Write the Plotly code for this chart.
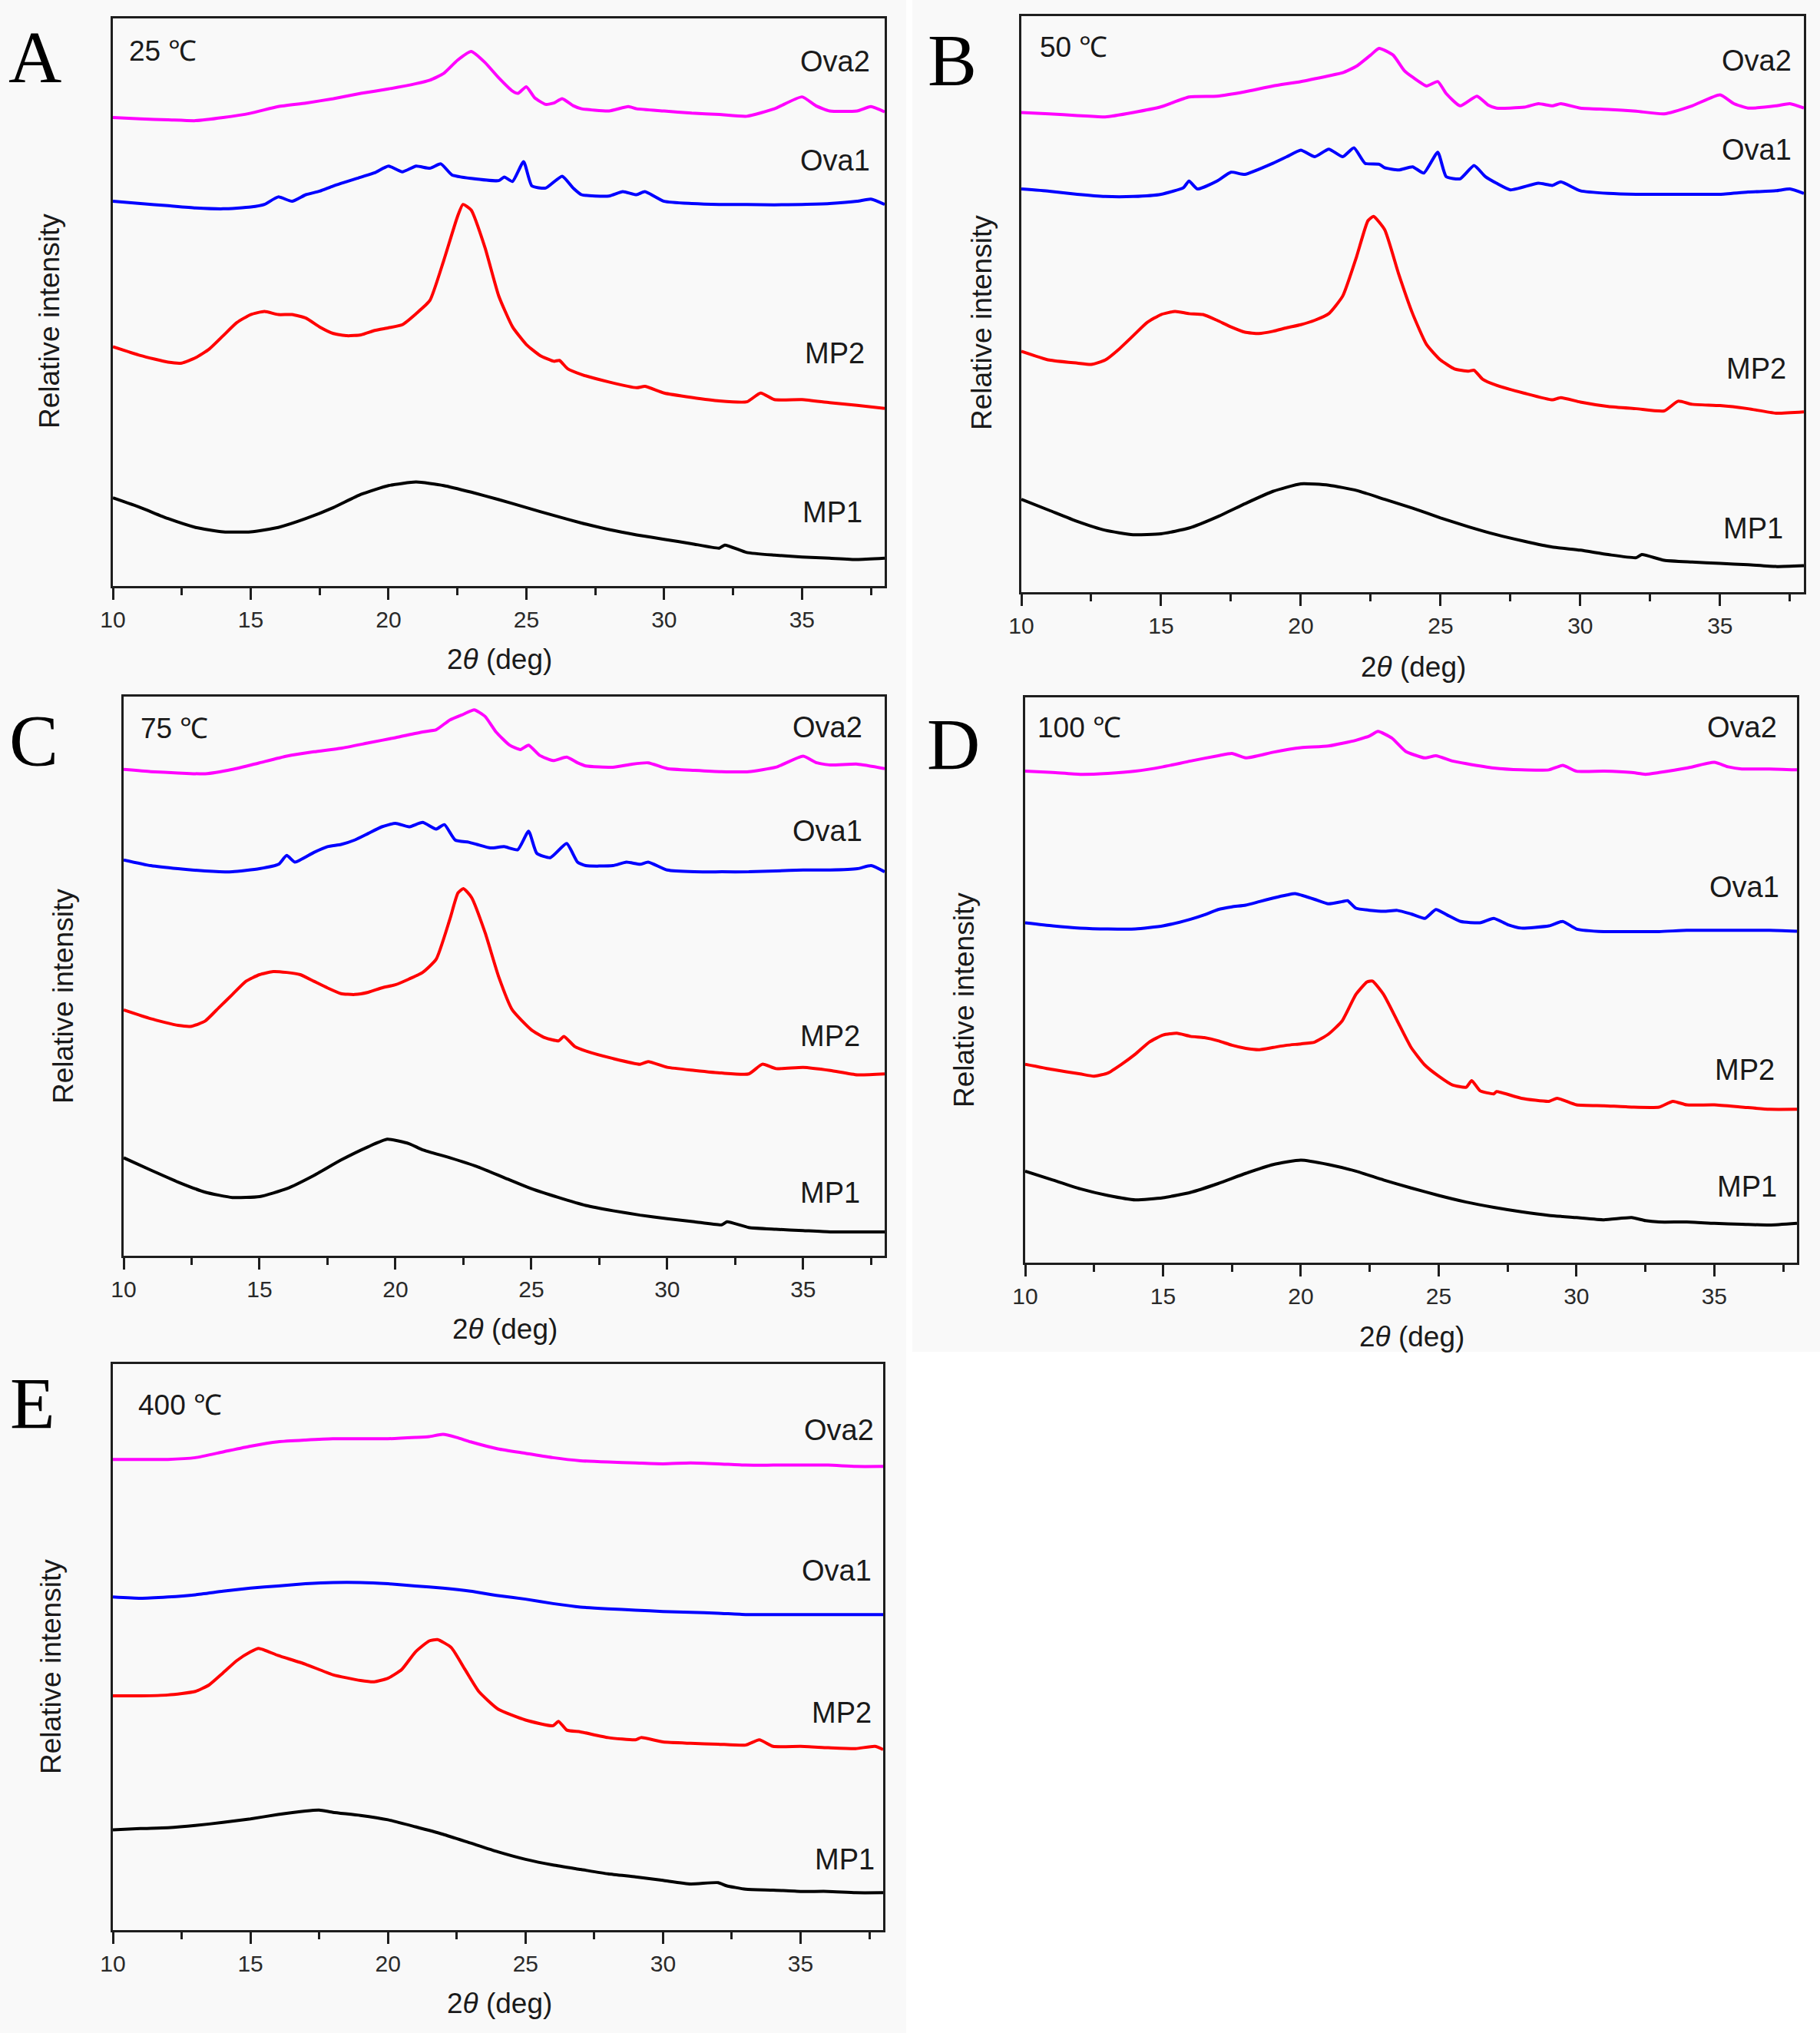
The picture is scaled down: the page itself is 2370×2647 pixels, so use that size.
import plotly.graph_objects as go

W, H = 2370, 2647

# ---------------- data (2θ in deg, relative intensity in arbitrary units, stacked) ----------------
# Panel A, 25 °C
A_OVA2 = [(10,1063),(11,1060),(12,1058),(13,1056),(14,1063),(15,1073),(16,1088),(17,1096),(18,1106),(19,1118),
          (20,1128),(21,1140),(21.5,1148),(22,1163),(22.5,1193),(23,1213),(23.5,1188),(24,1153),(24.5,1123),(24.7,1118),
          (25,1133),(25.3,1108),(25.7,1093),(26,1096),(26.3,1106),(26.7,1090),(27,1083),(28,1078),(28.7,1088),(29,1083),
          (30,1078),(31,1073),(32,1070),(33,1066),(34,1083),(35,1110),(35.5,1090),(36,1078),(37,1078),(37.5,1088),(38,1076)]
A_OVA1 = [(10,873),(11,868),(12,863),(13,858),(14,856),(15,860),(15.5,866),(16,883),(16.5,873),(17,888),(17.5,896),
          (18,908),(19,928),(19.5,938),(20,953),(20.5,940),(21,953),(21.5,948),(21.9,958),(22.3,933),(23,925),(24,920),
          (24.2,928),(24.5,918),(24.9,963),(25.2,908),(25.7,903),(26.3,930),(26.7,903),(27,888),(28,885),(28.5,895),
          (29,888),(29.3,895),(30,873),(31,868),(32,866),(33,866),(34,865),(35,866),(36,868),(37,873),(37.5,878),(38,866)]
A_MP2 = [(10,543),(11,523),(12,508),(12.5,506),(13,518),(13.5,538),(14,568),(14.5,598),(15,616),(15.5,623),(16,616),
         (16.5,616),(17,608),(17.5,588),(18,573),(18.5,568),(19,570),(19.5,580),(20,586),(20.5,593),(21,618),(21.5,648),
         (22,738),(22.5,838),(22.7,866),(23,853),(23.5,768),(24,658),(24.5,588),(25,548),(25.5,523),(26,510),(26.2,512),
         (26.5,493),(27,480),(28,463),(29,450),(29.3,453),(30,438),(31,428),(32,420),(33,418),(33.5,438),(34,423),
         (35,423),(36,416),(37,410),(38,403)]
A_MP1 = [(10,200),(11,178),(12,153),(13,133),(14,123),(15,123),(16,133),(17,153),(18,178),(19,208),(20,228),(21,236),
         (22,228),(23,213),(24,196),(25,178),(26,160),(27,143),(28,128),(29,116),(30,106),(31,96),(32,86),(32.2,93),
         (33,76),(34,70),(35,66),(36,63),(37,60),(38,63)]

# Panel B, 50 °C
B_OVA2 = [(10,1085),(11,1082),(12,1078),(13,1075),(14,1085),(15,1098),(16,1120),(17,1122),(18,1132),(19,1145),(20,1155),
          (21,1168),(21.5,1175),(22,1190),(22.5,1215),(22.8,1230),(23.3,1215),(23.7,1180),(24,1165),(24.5,1145),(24.9,1155),
          (25.2,1128),(25.7,1100),(26.3,1122),(26.7,1102),(27,1095),(28,1097),(28.5,1105),(29,1100),(29.3,1105),(30,1095),
          (31,1092),(32,1088),(33,1082),(34,1100),(35,1125),(35.5,1105),(36,1095),(37,1100),(37.5,1105),(38,1095)]
B_OVA1 = [(10,912),(11,907),(12,900),(13,895),(14,895),(15,900),(15.8,915),(16,930),(16.3,912),(17,930),(17.5,950),
          (18,945),(19,970),(19.5,985),(20,1000),(20.5,985),(21,1002),(21.5,985),(21.9,1005),(22.3,970),(22.8,968),(23,960),
          (23.5,955),(24,962),(24.4,948),(24.9,995),(25.2,940),(25.7,935),(26.2,965),(26.6,940),(27,925),(27.5,910),
          (28.5,925),(29,920),(29.3,928),(30,908),(31,902),(32,900),(33,900),(34,900),(35,900),(36,905),(37,908),
          (37.5,912),(38,902)]
B_MP2 = [(10,545),(11,525),(12,518),(12.5,515),(13,525),(13.5,550),(14,580),(14.5,610),(15,628),(15.5,635),(16,630),
         (16.5,628),(17,615),(17.5,600),(18,588),(18.5,585),(19,590),(19.5,598),(20,605),(20.5,615),(21,630),(21.5,670),
         (22,760),(22.4,840),(22.6,850),(23,820),(23.5,720),(24,630),(24.5,560),(25,525),(25.5,505),(26,500),(26.2,502),
         (26.5,482),(27,468),(28,450),(29,435),(29.3,440),(30,430),(31,420),(32,415),(33,410),(33.5,432),(34,425),
         (35,422),(36,415),(37,405),(38,408)]
B_MP1 = [(10,210),(11,185),(12,160),(13,140),(14,130),(15,132),(16,145),(17,170),(18,200),(19,228),(20,245),(21,242),
         (22,230),(23,210),(24,190),(25,168),(26,148),(27,130),(28,115),(29,102),(30,95),(31,85),(32,78),(32.2,85),
         (33,72),(34,68),(35,65),(36,62),(37,58),(38,60)]

# Panel C, 75 °C
C_OVA2 = [(10,1102),(11,1097),(12,1094),(13,1092),(14,1102),(15,1117),(16,1132),(17,1142),(18,1150),(19,1162),(20,1174),
          (21,1187),(21.5,1192),(22,1214),(22.5,1227),(22.9,1237),(23.3,1222),(23.7,1187),(24.2,1157),(24.6,1147),
          (24.9,1157),(25.3,1134),(25.8,1122),(26.3,1130),(26.7,1117),(27,1110),(28,1107),(28.7,1114),(29.3,1117),
          (30,1104),(31,1100),(32,1097),(33,1097),(34,1107),(35,1132),(35.5,1117),(36,1112),(37,1114),(38,1104)]
C_OVA1 = [(10,897),(11,884),(12,877),(13,872),(14,870),(15,877),(15.7,887),(16,907),(16.3,892),(17,914),(17.5,927),
          (18,932),(18.5,942),(19,957),(19.5,972),(20,980),(20.5,972),(21,982),(21.5,967),(21.8,977),(22.2,942),(22.7,937),
          (23,932),(23.5,924),(24,927),(24.5,920),(24.9,962),(25.2,912),(25.7,902),(26.3,934),(26.7,892),(27,884),
          (28,884),(28.5,892),(29,887),(29.3,892),(30,874),(31,870),(32,870),(33,870),(34,872),(35,874),(36,874),
          (37,877),(37.5,884),(38,870)]
C_MP2 = [(10,557),(11,537),(12,522),(12.5,520),(13,532),(13.5,562),(14,592),(14.5,622),(15,637),(15.5,644),(16,642),
         (16.5,637),(17,622),(17.5,607),(18,594),(18.5,592),(19,597),(19.5,607),(20,614),(20.5,627),(21,642),(21.5,672),
         (22,762),(22.3,822),(22.5,832),(22.8,812),(23.3,732),(23.8,632),(24.3,557),(25,512),(25.5,494),(26,487),
         (26.2,497),(26.6,474),(27,464),(28,447),(29,434),(29.3,440),(30,427),(31,420),(32,414),(33,412),(33.5,434),
         (34,424),(35,427),(36,420),(37,410),(38,412)]
C_MP1 = [(10,222),(11,194),(12,167),(13,144),(14,132),(15,134),(16,152),(17,182),(18,217),(19,247),(19.7,264),
         (20.5,254),(21,240),(22,222),(23,202),(24,177),(25,152),(26,132),(27,114),(28,102),(29,92),(30,84),(31,77),
         (32,70),(32.2,77),(33,64),(34,60),(35,57),(36,54),(37,54),(38,54)]

# Panel D, 100 °C
D_OVA2 = [(10,1112),(11,1109),(12,1105),(13,1107),(14,1112),(15,1122),(16,1135),(17,1147),(17.5,1152),(18,1142),
          (19,1155),(20,1165),(21,1169),(22,1182),(22.5,1192),(22.8,1202),(23.3,1187),(23.8,1157),(24.5,1142),(24.9,1147),
          (25.5,1135),(26,1129),(27,1119),(28,1115),(29,1115),(29.5,1125),(30,1112),(31,1112),(32,1109),(32.5,1105),
          (33,1109),(34,1119),(35,1132),(35.5,1122),(36,1117),(37,1117),(38,1115)]
D_OVA1 = [(10,769),(11,762),(12,757),(13,755),(14,755),(15,762),(16,777),(16.5,787),(17,799),(17.5,805),(18,809),
          (18.5,817),(19,825),(19.5,832),(19.8,835),(20.5,822),(21,812),(21.5,817),(21.7,819),(22,802),(23,795),(23.5,797),
          (24,789),(24.5,779),(24.9,799),(25.3,787),(25.8,772),(26.5,769),(27,779),(27.5,765),(28,757),(29,762),(29.5,772),
          (30,755),(31,749),(32,749),(33,749),(34,752),(35,752),(36,752),(37,752),(38,750)]
D_MP2 = [(10,449),(11,437),(12,427),(12.5,422),(13,429),(13.5,449),(14,472),(14.5,499),(15,515),(15.5,519),(16,512),
         (16.5,509),(17,502),(17.5,492),(18,485),(18.5,482),(19,487),(19.5,492),(20,495),(20.5,499),(21,517),(21.5,547),
         (22,607),(22.4,635),(22.6,637),(23,607),(23.5,547),(24,487),(24.5,447),(25,422),(25.5,402),(26,397),(26.2,412),
         (26.5,389),(27,382),(27.1,387),(28,372),(29,365),(29.3,372),(30,357),(31,355),(32,352),(33,352),(33.5,365),
         (34,357),(35,357),(36,352),(37,347),(38,347)]
D_MP1 = [(10,207),(11,187),(12,167),(13,152),(14,142),(15,147),(16,159),(17,179),(18,202),(19,222),(20,232),(21,222),
         (22,207),(23,187),(24,169),(25,152),(26,137),(27,125),(28,115),(29,107),(30,102),(31,97),(32,102),(32.5,95),
         (33,92),(34,92),(35,89),(36,87),(37,85),(38,89)]

# Panel E, 400 °C
E_OVA2 = [(10,1071),(11,1071),(12,1071),(13,1075),(14,1088),(15,1101),(16,1111),(17,1115),(18,1118),(19,1118),(20,1118),
          (21,1121),(21.5,1123),(22,1128),(22.5,1121),(23,1111),(24,1095),(25,1085),(26,1075),(27,1068),(28,1065),(29,1063),
          (30,1061),(31,1063),(32,1061),(33,1058),(34,1058),(35,1058),(36,1058),(37,1055),(38,1055)]
E_OVA1 = [(10,758),(11,755),(12,758),(13,763),(14,771),(15,778),(16,783),(17,788),(18,791),(19,791),(20,788),(21,783),
          (22,778),(23,771),(24,761),(25,753),(26,743),(27,735),(28,731),(29,728),(30,725),(31,723),(32,721),(33,718),
          (34,718),(35,718),(36,718),(37,718),(38,718)]
E_MP2 = [(10,533),(11,533),(12,535),(13,543),(13.5,558),(14,585),(14.5,613),(15,633),(15.3,641),(16,625),(17,605),
         (18,581),(19,568),(19.5,565),(20,573),(20.5,593),(21,633),(21.5,658),(21.8,661),(22.3,643),(22.8,593),(23.3,543),
         (24,503),(25,478),(26,465),(26.2,475),(26.5,455),(27,451),(28,438),(29,433),(29.2,438),(30,428),(31,425),
         (32,423),(33,421),(33.5,433),(34,418),(35,418),(36,415),(37,413),(37.7,418),(38,411)]
E_MP1 = [(10,228),(11,231),(12,233),(13,238),(14,245),(15,253),(16,263),(17,271),(17.5,273),(18,268),(19,261),(20,251),
         (21,235),(22,218),(23,198),(24,178),(25,161),(26,148),(27,138),(28,128),(29,121),(30,113),(31,105),(32,108),
         (32.3,101),(33,93),(34,91),(35,88),(36,88),(37,85),(38,85)]

PANELS = ["A", "B", "C", "D", "E"]
TEMPS = ["25 \u2103", "50 \u2103", "75 \u2103", "100 \u2103", "400 \u2103"]
SERIES_NAMES = ["Ova2", "Ova1", "MP2", "MP1"]
PANEL_DATA = {
    "A": [A_OVA2, A_OVA1, A_MP2, A_MP1],
    "B": [B_OVA2, B_OVA1, B_MP2, B_MP1],
    "C": [C_OVA2, C_OVA1, C_MP2, C_MP1],
    "D": [D_OVA2, D_OVA1, D_MP2, D_MP1],
    "E": [E_OVA2, E_OVA1, E_MP2, E_MP1],
}
Y_MAX = {"A": 1288, "B": 1303, "C": 1267, "D": 1279, "E": 1288}
X_TICKS = [10, 15, 20, 25, 30, 35]

# ---------------- styling / layout ----------------
COLORS = {"Ova2": "#ff00ff", "Ova1": "#0000ff", "MP2": "#ff0000", "MP1": "#000000"}
# plot boxes in pixels: left, top, right, bottom
BOX = {"A": (147, 24, 1152, 763), "B": (1330, 21, 2349, 771), "C": (161, 907, 1152, 1635),
       "D": (1335, 908, 2340, 1644), "E": (147, 1776, 1150, 2513)}
# series label anchor (deg, intensity)
LABEL_AT = {
    "A": [(36.2, 1190), (36.2, 966), (36.2, 528), (36.1, 168)],
    "B": [(36.3, 1202), (36.3, 1000), (36.3, 505), (36.2, 145)],
    "C": [(35.9, 1197), (35.9, 962), (36.0, 497), (36.0, 142)],
    "D": [(36.0, 1212), (36.1, 850), (36.1, 437), (36.2, 172)],
    "E": [(36.4, 1138), (36.3, 818), (36.5, 495), (36.6, 161)],
}
LETTER_AT = {"A": (45, 75), "B": (1240, 78), "C": (44, 964), "D": (1241, 969), "E": (42, 1828)}
TEMP_AT = {"A": (212, 66), "B": (1398, 62), "C": (227, 949), "D": (1405, 948), "E": (234, 1829)}
YTITLE_AT = {"A": (64, 418), "B": (1278, 420), "C": (82, 1297), "D": (1255, 1302), "E": (66, 2170)}
XTITLE_AT = {"A": (650, 859), "B": (1840, 868), "C": (657, 1730), "D": (1838, 1740), "E": (650, 2608)}
BG_AT = {"A": (0, 0, 1180, 878), "B": (1188, 0, 2370, 885), "C": (0, 878, 1180, 1755),
         "D": (1188, 885, 2370, 1760), "E": (0, 1755, 1180, 2647)}

SANS = "Liberation Sans, Arial, sans-serif"
SERIF = "Liberation Serif, Times New Roman, serif"
AX = "#1e1e1e"

def px(x):
    return x / W

def py(y):
    return 1 - y / H

fig = go.Figure()
annotations = []
shapes = []

for i, p in enumerate(PANELS):
    n = "" if i == 0 else str(i + 1)
    xa, ya = "x" + n, "y" + n
    for name, series in zip(SERIES_NAMES, PANEL_DATA[p]):
        fig.add_trace(go.Scatter(
            x=[v[0] for v in series], y=[v[1] for v in series],
            mode="lines", line=dict(color=COLORS[name], width=4, shape="spline", smoothing=0.5),
            xaxis=xa, yaxis=ya, showlegend=False, hoverinfo="skip"))
    for name, (lx, ly) in zip(SERIES_NAMES, LABEL_AT[p]):
        annotations.append(dict(x=lx, y=ly, xref=xa, yref=ya, text=name, showarrow=False,
                                xanchor="center", yanchor="middle",
                                font=dict(family=SANS, size=38, color="#1a1a1a")))
    l, t, r, b = BOX[p]
    fig.layout["xaxis" + n] = dict(
        domain=[px(l), px(r)], anchor=ya, range=[10, 38], tickvals=X_TICKS,
        ticks="outside", ticklen=15, tickwidth=3, tickcolor=AX,
        minor=dict(tickvals=[12.5, 17.5, 22.5, 27.5, 32.5, 37.5], ticks="outside",
                   ticklen=9, tickwidth=3, tickcolor=AX),
        showline=True, linewidth=3, linecolor=AX, mirror=True, showgrid=False, zeroline=False,
        automargin=False,
        tickfont=dict(family=SANS, size=30, color="#2a2a2a"), fixedrange=True)
    fig.layout["yaxis" + n] = dict(
        domain=[py(b), py(t)], anchor=xa, range=[0, Y_MAX[p]], automargin=False,
        showticklabels=False, ticks="", showline=True, linewidth=3, linecolor=AX,
        mirror=True, showgrid=False, zeroline=False, fixedrange=True)

    lx, ly = LETTER_AT[p]
    annotations.append(dict(x=px(lx), y=py(ly), xref="paper", yref="paper", text=p, showarrow=False,
                            xanchor="center", yanchor="middle",
                            font=dict(family=SERIF, size=96, color="#000000")))
    tx, ty = TEMP_AT[p]
    annotations.append(dict(x=px(tx), y=py(ty), xref="paper", yref="paper", text=TEMPS[i], showarrow=False,
                            xanchor="center", yanchor="middle",
                            font=dict(family=SANS, size=37, color="#1a1a1a")))
    yx, yy = YTITLE_AT[p]
    annotations.append(dict(x=px(yx), y=py(yy), xref="paper", yref="paper", text="Relative intensity",
                            textangle=-90, showarrow=False, xanchor="center", yanchor="middle",
                            font=dict(family=SANS, size=37, color="#1a1a1a")))
    xx, xy = XTITLE_AT[p]
    annotations.append(dict(x=px(xx), y=py(xy), xref="paper", yref="paper", text="2<i>\u03b8</i> (deg)",
                            showarrow=False, xanchor="center", yanchor="middle",
                            font=dict(family=SANS, size=37, color="#1a1a1a")))
    bl, bt, br, bb = BG_AT[p]
    shapes.append(dict(type="rect", xref="paper", yref="paper", x0=px(bl), x1=px(br), y0=py(bb), y1=py(bt),
                       fillcolor="#f9f9f9", line=dict(width=0), layer="below"))

fig.update_layout(
    width=W, height=H, margin=dict(l=0, r=0, t=0, b=0, pad=0, autoexpand=False),
    paper_bgcolor="#ffffff", plot_bgcolor="#fcfcfc",
    annotations=annotations, shapes=shapes, showlegend=False)

POST = ("document.documentElement.style.margin='0';document.documentElement.style.padding='0';"
        "document.documentElement.style.overflow='hidden';"
        "document.body.style.margin='0';document.body.style.padding='0';document.body.style.overflow='hidden';")

fig.write_html("out.html", config={"displayModeBar": False, "responsive": False}, post_script=POST)
